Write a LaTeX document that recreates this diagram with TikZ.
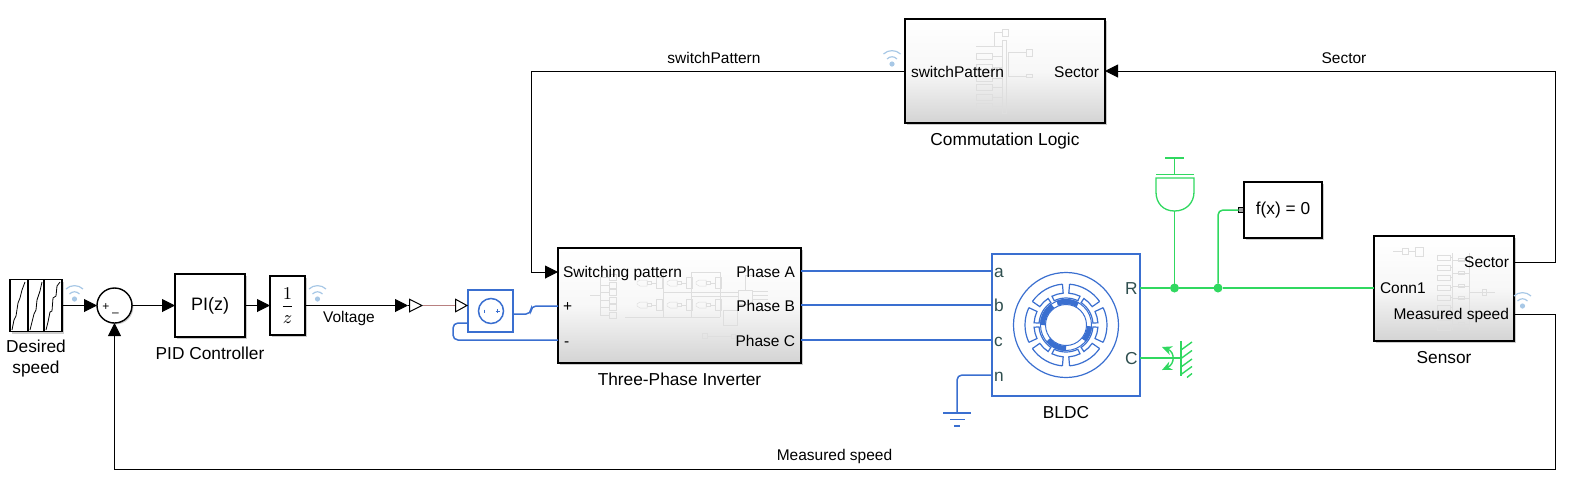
\documentclass[tikz,border=0pt]{standalone}
\usepackage{amsmath}
\usepackage{fontspec}
\setmainfont{Liberation Sans}
\usepackage{xcolor}
\usepackage{tikz}
\usetikzlibrary{arrows.meta, positioning, shadows}

\definecolor{elecblue}{HTML}{3A6FD0}
\definecolor{mechgreen}{HTML}{30D860}
\definecolor{portgray}{HTML}{2F4F4F}
\definecolor{wifiblue}{HTML}{A8C8E6}
\definecolor{psline}{HTML}{B88080}

\begin{document}
\begin{tikzpicture}[
    x=0.5pt, y=-0.5pt,
    every node/.style={font=\fontsize{7.75}{9.3}\selectfont, inner sep=0pt, outer sep=0pt},
    block/.style={rectangle, draw=black, fill=white, line width=0.7pt, drop shadow={shadow xshift=1pt, shadow yshift=-1pt, fill=black!40, opacity=0.5}},
    subsys/.style={block, top color=white, bottom color=black!17, middle color=white!97!black},
    physbox/.style={rectangle, draw=elecblue, fill=white, line width=0.75pt},
    caption/.style={font=\fontsize{8.65}{10.4}\selectfont, text height=1.6ex, text depth=0.4ex},
    portlabel/.style={text height=1.6ex, text depth=0.4ex},
    physlabel/.style={portlabel, font=\fontsize{8.65}{10.4}\selectfont, text=portgray},
    sig/.style={-{Triangle[length=6.5pt, width=6.5pt]}, line width=0.5pt, black},
    elec/.style={line width=0.75pt, elecblue, rounded corners=2.5pt},
    mech/.style={line width=0.75pt, mechgreen, rounded corners=2.5pt},
    thumb/.style={line width=0.25pt, black!13},
    dotjoin/.style={circle, fill=mechgreen, minimum size=4.5pt},
    wifi/.pic={
        \fill[wifiblue] (0,0) circle (2.6);
        \draw[wifiblue, line width=0.6pt] (-5,-5) .. controls (-2,-8) and (2,-8) .. (5,-5);
        \draw[wifiblue, line width=0.6pt] (-8.5,-10) .. controls (-4,-14.5) and (4,-14.5) .. (8.5,-10);
    }
]
\useasboundingbox (0,0) rectangle (1571,478);

% blocks
\node[block, minimum width=26pt, minimum height=26pt] (ramp) at (36,305.5) {};
\node[circle, draw=black, fill=white, line width=0.7pt, minimum size=17.5pt, drop shadow={shadow xshift=0.7pt, shadow yshift=-0.7pt, fill=black!40, opacity=0.5}] (sum) at (114.5,305.5) {};
\node[block, minimum width=35pt, minimum height=31.5pt, font=\fontsize{9}{10}\selectfont] (pid) at (210,305.5) {PI(z)};
\node[block, minimum width=17.5pt, minimum height=29.5pt, font=\fontsize{8.65}{10}\selectfont] (delay) at (287.5,305.5) {$\dfrac{1}{z}$};
\node[physbox, minimum width=22.5pt, minimum height=21pt] (conv) at (490.5,311) {};
\node[subsys, minimum width=121.5pt, minimum height=57.5pt] (inverter) at (679.5,305.5) {};
\node[physbox, minimum width=74pt, minimum height=71pt] (bldc) at (1066,325) {};
\node[block, minimum width=39pt, minimum height=28pt, font=\fontsize{8.65}{10}\selectfont] (solver) at (1283,210) {f(x) = 0};
\node[subsys, minimum width=100pt, minimum height=52pt] (commlogic) at (1005,71) {};
\node[subsys, minimum width=70pt, minimum height=52.5pt] (sensor) at (1444,288.5) {};

% captions
\node[align=center, below=4pt of ramp, font=\fontsize{8.65}{10.6}\selectfont] (rampcap) {Desired\\speed};
\node[caption, below=3pt of pid] (pidcap) {PID Controller};
\node[caption, below=3pt of inverter] (invcap) {Three-Phase Inverter};
\node[caption, below=3pt of bldc] (bldccap) {BLDC};
\node[caption, below=3pt of commlogic] (commcap) {Commutation Logic};
\node[caption, below=3pt of sensor] (sensorcap) {Sensor};

% sum signs
\node[font=\fontsize{6}{6}\selectfont] (sumplus) at (106,307) {+};
\node[font=\fontsize{6}{6}\selectfont] (summinus) at (115.5,315) {--};

% ramp scope
\draw[line width=0.6pt] (28,279.5) -- (28,331.5) (44,279.5) -- (44,331.5);
\draw[line width=0.4pt] (12,330) -- (14,320) -- (16,316) -- (18,303) -- (20,298) -- (22,290) -- (25,282);
\draw[line width=0.4pt] (30,330) -- (32,322) -- (34,314) -- (36,310) -- (37,300) -- (40,291) -- (42,282);
\draw[line width=0.4pt] (46,330) -- (48,322) -- (50,312) -- (52,311) -- (53,298) -- (56,296) -- (57,286) -- (60,282);

% converter icon
\draw[elecblue, line width=0.75pt] (491,311) circle (12.5);
\draw[elecblue, line width=0.5pt] (484,309.5) -- (484,312.5) (495.5,311) -- (499.5,311) (497.5,309) -- (497.5,313);

% commutation thumbnail
\draw[thumb] (1002,40) rectangle (1006,113);
\draw[thumb] (1002,29) rectangle (1008,36) (1002,32) -- (994,32) -- (994,46) (976,46) -- (1002,46);
\draw[thumb] (1026,49) rectangle (1032,56) (1026,52) -- (1008,52) -- (1008,76) -- (1026,76);
\foreach \rowy in {56,67,78,87,97,106}
  \draw[thumb] (976,\rowy-3) rectangle (992,\rowy+3) (992,\rowy) -- (1002,\rowy);
\draw[thumb] (1026,74.5) rectangle (1032,77.5);

% inverter thumbnail
\foreach \rowy in {283,305} {
  \foreach \colx in {637,667,696} {
    \draw[thumb] (\colx+10,\rowy-3) -- (\colx+10,\rowy+3) -- (\colx+3,\rowy+3) -- (\colx,\rowy+1) -- (\colx,\rowy-1) -- (\colx+3,\rowy-3) -- cycle;
    \draw[thumb] (\colx+10,\rowy-1.5) rectangle (\colx+14,\rowy+1.5);
    \draw[thumb] (\colx+14,\rowy) -- (\colx+19,\rowy);
    \draw[thumb] (\colx+19,\rowy-5.5) rectangle (\colx+25,\rowy+5.5);
  }
}
\foreach \rowy in {277,285,292,300,307,315}
  \draw[thumb] (600,\rowy) -- (609,\rowy) (609,\rowy-3) rectangle (616,\rowy+3);
\draw[thumb] (600,277) -- (600,315) (590,295) -- (600,295);
\draw[thumb] (625,317) -- (720,317) (691,272) -- (720,272) -- (720,317) (663,292) -- (738,292) (691,296) -- (738,296) (663,272) -- (663,317) (691,272) -- (691,317);
\draw[thumb] (738,290) rectangle (752,304) (723,310) rectangle (737,325);
\draw[thumb] (702,333) rectangle (707,338) (707,336) -- (731,336) (731,334) rectangle (735,338);
\draw[thumb] (752,295) -- (768,295) (752,291) -- (768,291) (752,299) -- (768,299) (745,290) -- (745,275) -- (760,275);

% sensor thumbnail
\foreach \rowy in {255,265,...,325}
  \draw[thumb] (1437,\rowy) rectangle (1450,\rowy+5) (1450,\rowy+2) -- (1452,\rowy+2);
\draw[thumb] (1452,253) -- (1452,330) (1469,253) -- (1469,330);
\foreach \rowy in {260,273,286,298,324}
  \draw[thumb] (1452,\rowy) -- (1469,\rowy) (1458,\rowy-1.5) rectangle (1464,\rowy+1.5);
\draw[thumb] (1393,251) -- (1402,251) (1402,248) rectangle (1408,254) (1408,251) -- (1415,251) (1415,247) rectangle (1423,256) (1469,292) -- (1495,292) (1482,289) rectangle (1486,295);

% BLDC motor
\begin{scope}[shift={(1066,325)}, y=0.5pt, elecblue]
  \draw[line width=0.6pt] (0,0) circle (52.5);
  \foreach \ang in {90,30,-30,-90,-150,150} {
    \draw[line width=0.6pt] (\ang+5:41) -- (\ang+5:32) arc[start angle=\ang+5, end angle=\ang+26, radius=32] -- (\ang+26:27) arc[start angle=\ang+26, end angle=\ang-26, radius=27] -- (\ang-26:32) arc[start angle=\ang-26, end angle=\ang-5, radius=32] -- (\ang-5:41);
    \draw[line width=0.6pt] (\ang+5:41) arc[start angle=\ang+5, end angle=\ang+55, radius=41];
  }
  \draw[line width=0.5pt] (0,0) circle (20.5);
  \foreach \angA/\angB in {125/180, 60/112, -40/-3, -90/-140}
    \draw[line width=2.6pt] (\angA:23.5) arc[start angle=\angA, end angle=\angB, radius=23.5];
  \draw[line width=0.5pt] (0,0) circle (25.5);
\end{scope}

% port labels
\node[portlabel, anchor=west] (lblswitch) at (563,271.5) {Switching pattern};
\node[portlabel, anchor=west] (lblplus) at (563,305.5) {+};
\node[portlabel, anchor=west] (lblminus) at (564,340.5) {-};
\node[portlabel, anchor=east] (lblA) at (795,271) {Phase A};
\node[portlabel, anchor=east] (lblB) at (795,305) {Phase B};
\node[portlabel, anchor=east] (lblC) at (795,340) {Phase C};
\node[portlabel, anchor=west] (lblswpat) at (911,71) {switchPattern};
\node[portlabel, anchor=east] (lblcomsec) at (1099,71) {Sector};
\node[portlabel, anchor=west] (lblconn) at (1380,287.5) {Conn1};
\node[portlabel, anchor=east] (lblsensec) at (1509,261.5) {Sector};
\node[portlabel, anchor=east] (lblmeas) at (1509,313.5) {Measured speed};
\node[physlabel, anchor=west] (lbla) at (994,271.5) {a};
\node[physlabel, anchor=west] (lblb) at (994,305.5) {b};
\node[physlabel, anchor=west] (lblc) at (994,340.5) {c};
\node[physlabel, anchor=west] (lbln) at (994,375.5) {n};
\node[physlabel, anchor=east] (lblR) at (1137.5,288) {R};
\node[physlabel, anchor=east] (lblCc) at (1137.5,358) {C};

% signal labels
\node (txtswitch) at (714,58) {switchPattern};
\node (txtsector) at (1344,58) {Sector};
\node (txtmeas) at (834.5,456) {Measured speed};
\node (txtvolt) at (349,318) {Voltage};

% port and corner coordinates
\coordinate (invSw) at (558,272);
\coordinate (invPlus) at (558,306);
\coordinate (invMinus) at (558,340);
\coordinate (invA) at (801,271);
\coordinate (invB) at (801,305);
\coordinate (invC) at (801,340);
\coordinate (motA) at (992,271);
\coordinate (motB) at (992,305);
\coordinate (motC) at (992,340);
\coordinate (motN) at (992,375);
\coordinate (motR) at (1140,288);
\coordinate (motCase) at (1140,358);
\coordinate (senConn) at (1374,288);
\coordinate (senSector) at (1514,262);
\coordinate (senSpeed) at (1514,314);
\coordinate (comSwitch) at (905,71);
\coordinate (comSector) at (1105,71);
\coordinate (topLeft) at (531.5,71);
\coordinate (topRight) at (1555,71);
\coordinate (lowRight) at (1555,469.5);
\coordinate (volt1) at (408,305.5);
\coordinate (volt2) at (423,305.5);
\coordinate (volt3) at (455,305.5);
\coordinate (convIn) at (468,305.5);
\coordinate (convOut) at (513,314);
\coordinate (convBack) at (468,323);
\coordinate (convKnee) at (531,306);
\coordinate (backKnee) at (453,340);
\coordinate (gndTop) at (957,413);
\coordinate (inertiaIn) at (1174.5,211);
\coordinate (wallIn) at (1181,358);

% signal lines
\draw[sig] (ramp) -- (sum);
\draw[sig] (sum) -- (pid);
\draw[sig] (pid) -- (delay);
\draw[sig] (delay) -- (volt1);
\draw[-{Triangle[open, length=7pt, width=7pt]}, line width=0.5pt] (volt1) -- (volt2);
\draw[line width=0.7pt, psline] (volt2) -- (volt3);
\draw[-{Triangle[open, length=6.5pt, width=7pt]}, line width=0.5pt] (volt3) -- (convIn);
\draw[sig] (comSwitch) -- (topLeft) |- (invSw);
\draw[sig] (senSector) -| (topRight) -- (comSector);
\draw[sig] (senSpeed) -| (lowRight) -| (sum);

% electrical lines
\draw[elec] (convOut) -| (convKnee) -- (invPlus);
\draw[elec] (convBack) -| (backKnee) -- (invMinus);
\draw[elec] (invA) -- (motA);
\draw[elec] (invB) -- (motB);
\draw[elec] (invC) -- (motC);
\draw[elec] (motN) -| (gndTop);
\draw[elecblue, line width=0.75pt] (943,413) -- (971,413) (950,419.5) -- (965,419.5) (954,426) -- (960,426);

% mechanical lines
\node[dotjoin] (juncA) at (1174.5,288) {};
\node[dotjoin] (juncB) at (1218,288) {};
\node[rectangle, draw=black, fill=black!35, line width=0.5pt, minimum size=2.5pt] (solverport) at (1241,210) {};
\draw[mech] (motR) -- (juncA);
\draw[mech] (juncA) -- (juncB);
\draw[mech] (juncB) -- (senConn);
\draw[mech] (juncA) -- (inertiaIn);
\draw[mech] (juncB) |- (solverport);
\draw[mech, rounded corners=0pt] (motCase) -- (wallIn);

% inertia
\draw[mechgreen, line width=0.65pt] (1156,178) -- (1194,178) -- (1194,192) .. controls (1194,203) and (1186,211) .. (inertiaIn) .. controls (1163,211) and (1156,203) .. (1156,192) -- cycle;
\draw[mechgreen, line width=0.65pt] (1156,174.5) -- (1194,174.5) (1174.5,174.5) -- (1174.5,158) (1165,158) -- (1184,158);

% mechanical reference
\draw[mechgreen, line width=1pt] (1181,341) -- (1181,376);
\foreach \hatchy in {350,358.5,367,374.5}
  \draw[mechgreen, line width=0.7pt] (1181,\hatchy) -- (1192,\hatchy-8);
\draw[mechgreen, line width=0.7pt] (1187,377.5) -- (1192,373.5);
\draw[mechgreen, line width=0.7pt, {Stealth[length=5pt, width=4.5pt]}-{Stealth[length=5pt, width=4.5pt]}] (1162,347) .. controls (1175,352) and (1175,364) .. (1162,370);

% wireless icons
\pic (wifiA) at (74.5,299) {wifi};
\pic (wifiB) at (317.5,299) {wifi};
\pic (wifiC) at (892,64) {wifi};
\pic (wifiD) at (1522.5,306) {wifi};

\end{tikzpicture}
\end{document}
